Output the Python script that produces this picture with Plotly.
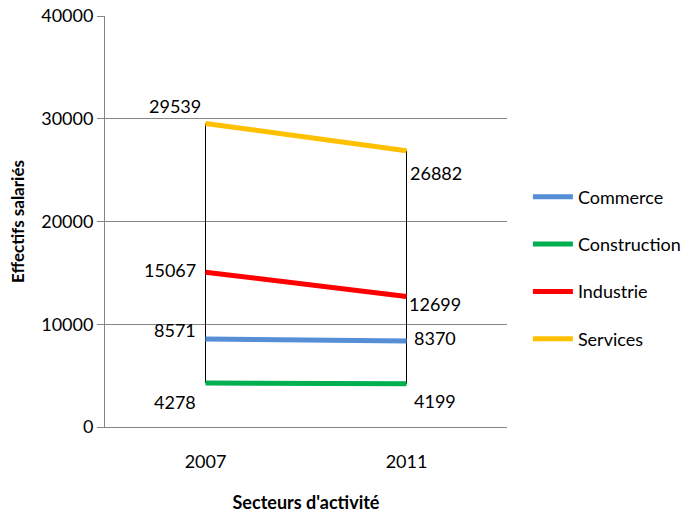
import plotly.graph_objects as go

years = ["2007", "2011"]
series_names = ["Commerce", "Construction", "Industrie", "Services"]
commerce = [8571, 8370]
construction = [4278, 4199]
industrie = [15067, 12699]
services = [29539, 26882]
series_values = [commerce, construction, industrie, services]
colors = ["#558ED5", "#00B050", "#FF0000", "#FFC000"]

FONT = "Lato, sans-serif"

fig = go.Figure()

# drop lines (high-low) at each category
drop_x, drop_y = [], []
for i, yr in enumerate(years):
    vals = [s[i] for s in series_values]
    drop_x += [yr, yr, None]
    drop_y += [min(vals), max(vals), None]
fig.add_trace(go.Scatter(x=drop_x, y=drop_y, mode="lines",
                         line=dict(color="black", width=1),
                         showlegend=False, hoverinfo="skip"))

for k, (name, vals, col) in enumerate(zip(series_names, series_values, colors)):
    fig.add_trace(go.Scatter(x=years, y=vals, mode="lines", name=name,
                             legendgroup=name,
                             line=dict(color=col, width=5)))

# data labels: (xanchor, xshift, yshift) for 2007 and 2011
label_pos = {
    "Commerce": [("right", -8, 9), ("left", 5, 3)],
    "Construction": [("right", -8, -19), ("left", 5, -17)],
    "Industrie": [("right", -8, 2), ("left", 0, -7)],
    "Services": [("center", -31, 17), ("left", 1, -22)],
}
for name, vals in zip(series_names, series_values):
    for i, yr in enumerate(years):
        xa, xs, ys = label_pos[name][i]
        fig.add_annotation(x=i, y=vals[i], xref="x", yref="y",
                           text=str(vals[i]), showarrow=False,
                           xanchor=xa, yanchor="middle", xshift=xs, yshift=ys,
                           font=dict(family=FONT, size=18, color="black"))

fig.update_layout(
    width=681, height=513,
    margin=dict(l=105, r=174, t=16, b=86, autoexpand=False),
    paper_bgcolor="white", plot_bgcolor="white",
    font=dict(family=FONT, size=18, color="black"),
    legend=dict(x=1.052, y=0.387, xanchor="left", yanchor="middle",
                font=dict(family=FONT, size=18), tracegroupgap=21,
                itemwidth=40,
                bgcolor="rgba(0,0,0,0)"),
    xaxis=dict(type="category", range=[-0.5, 1.5], showgrid=False,
               automargin=False,
               showline=True, linecolor="#868686", linewidth=1,
               ticks="outside", ticklen=18, tickcolor="rgba(0,0,0,0)",
               tickfont=dict(family=FONT, size=18),
               title=dict(text="<b>Secteurs d'activité</b>", standoff=25,
                          font=dict(family=FONT, size=18))),
    yaxis=dict(range=[0, 40000], dtick=10000, tickformat="d", showgrid=True,
               automargin=False,
               gridcolor="#868686", gridwidth=1, zeroline=False,
               showline=True, linecolor="#868686", linewidth=1,
               ticks="outside", ticklen=7, tickcolor="#868686",
               tickfont=dict(family=FONT, size=18),
               title=dict(text="<b>Effectifs salariés</b>", standoff=12,
                          font=dict(family=FONT, size=17))),
)

fig.write_html(
    "out.html",
    config={"responsive": False, "displayModeBar": False},
    post_script="document.body.style.margin='0';document.body.style.overflow='hidden';",
)
